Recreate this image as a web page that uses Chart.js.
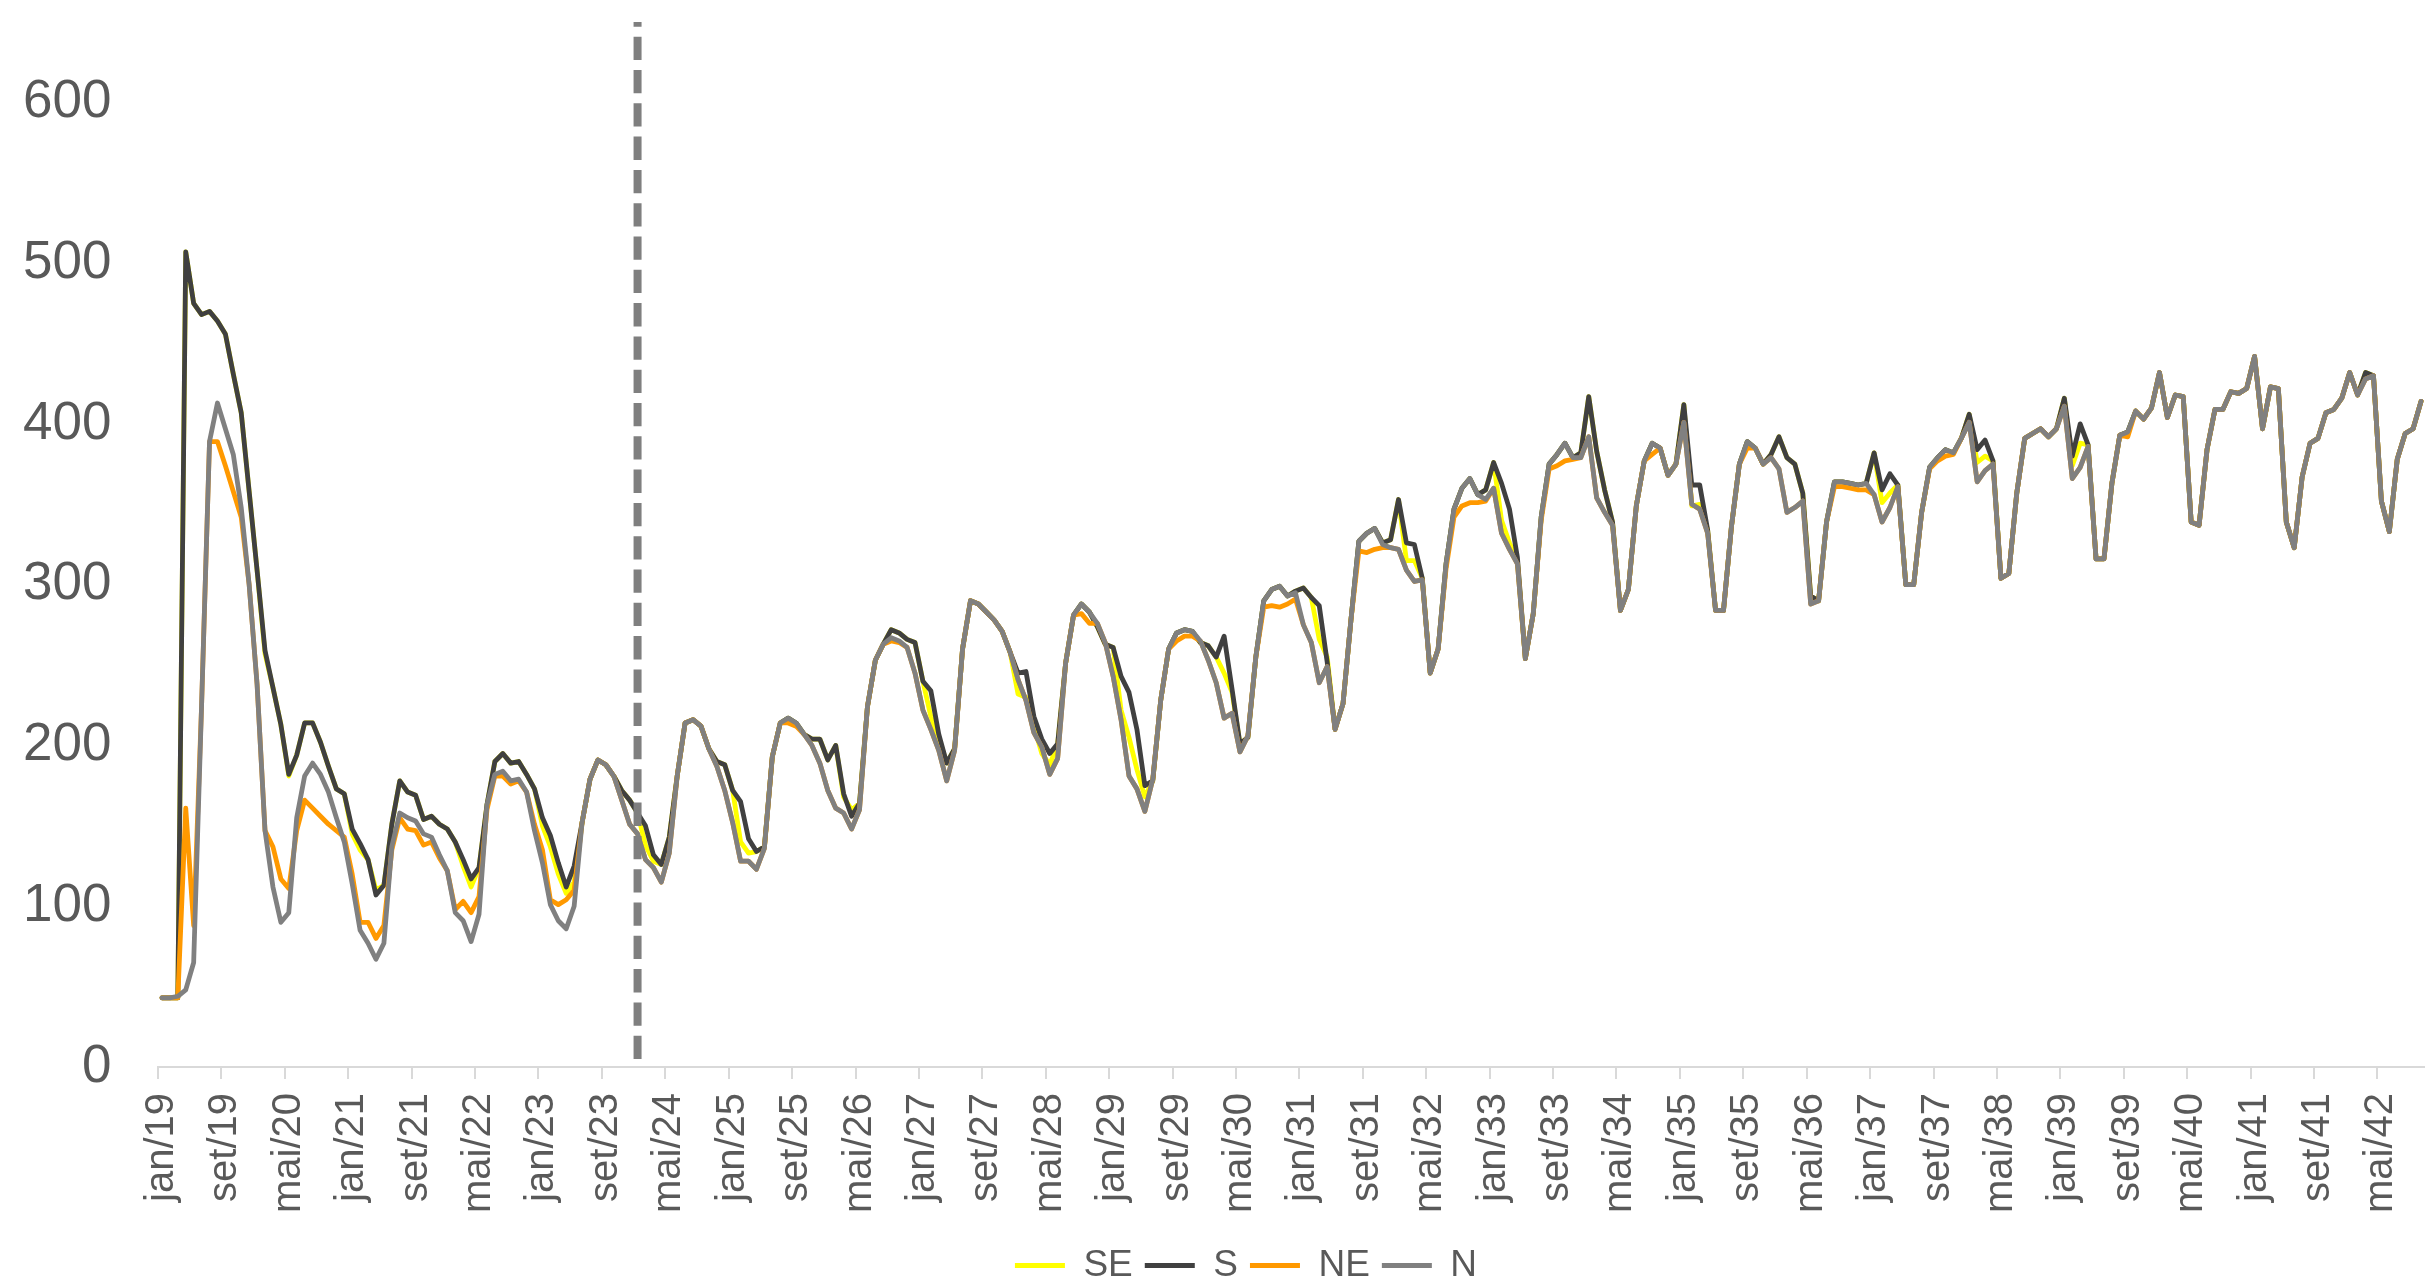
<!DOCTYPE html>
<html>
<head>
<meta charset="utf-8">
<title>SE, S, NE, N</title>
<script src="https://cdn.jsdelivr.net/npm/chart.js@4/dist/chart.umd.min.js"></script>
<style>
  html, body { margin: 0; padding: 0; background: #fff; }
  #wrap { width: 2425px; height: 1280px; position: relative; }
</style>
</head>
<body>
<div id="wrap"><canvas id="chart"></canvas></div>
<script>
// Month categories jan/19 .. out/42
const monthNames = ['jan', 'fev', 'mar', 'abr', 'mai', 'jun', 'jul', 'ago', 'set', 'out', 'nov', 'dez'];
const firstYear = 19;
const monthCount = 286;
const monthLabels = [];
for (let i = 0; i < monthCount; i++) {
  monthLabels.push(monthNames[i % 12] + '/' + (firstYear + Math.floor(i / 12)));
}

// Start of the projection (dashed line)
const forecastStart = 'jan/24';

const yTickValues = [0, 100, 200, 300, 400, 500, 600];

// Series values
const seSeries = [
  43, 43, 43, 507, 475, 468, 470, 464, 456, 431,
  407, 358, 309, 257, 236, 213, 181, 194, 214, 214,
  202, 187, 173, 170, 145, 135, 129, 110, 113, 151,
  178, 171, 169, 154, 156, 151, 148, 140, 125, 112,
  124, 163, 190, 195, 189, 190, 182, 173, 150, 137,
  120, 108, 115, 152, 179, 191, 188, 181, 172, 166,
  158, 138, 128, 126, 143, 181, 214, 216, 212, 198,
  190, 188, 172, 140, 133, 134, 137, 193, 214, 217,
  214, 207, 204, 204, 191, 200, 168, 160, 164, 224,
  253, 263, 272, 270, 266, 264, 240, 218, 205, 189,
  198, 260, 290, 288, 283, 278, 271, 258, 232, 230,
  212, 195, 188, 201, 251, 281, 288, 283, 274, 263,
  261, 222, 205, 185, 168, 178, 228, 260, 270, 272,
  271, 264, 262, 255, 245, 233, 201, 205, 255, 290,
  297, 299, 293, 296, 298, 292, 266, 255, 210, 226,
  278, 327, 332, 335, 326, 328, 353, 315, 315, 304,
  245, 260, 313, 347, 360, 366, 356, 359, 376, 340,
  326, 315, 254, 282, 342, 375, 381, 388, 379, 382,
  417, 383, 359, 339, 284, 297, 349, 377, 388, 385,
  368, 375, 412, 349, 350, 334, 284, 284, 336, 375,
  389, 385, 375, 381, 392, 379, 375, 357, 293, 290,
  339, 364, 364, 363, 362, 363, 382, 351, 357, 362,
  300, 300, 345, 373, 379, 384, 382, 391, 406, 376,
  380, 377, 304, 307, 357, 391, 394, 397, 392, 397,
  416, 374, 388, 387, 316, 316, 363, 393, 395, 408,
  403, 410, 432, 404, 418, 417, 339, 337, 384, 409,
  409, 420, 419, 422, 442, 397, 423, 422, 339, 323,
  367, 388, 391, 407, 409, 416, 432, 418, 432, 430,
  352, 333, 378, 394, 397, 414
];

const sSeries = [
  43, 43, 43, 507, 475, 468, 470, 464, 456, 431,
  407, 358, 309, 259, 236, 213, 182, 194, 214, 214,
  202, 187, 173, 170, 148, 139, 129, 107, 113, 151,
  178, 171, 169, 154, 156, 151, 148, 140, 129, 117,
  124, 163, 190, 195, 189, 190, 182, 173, 155, 144,
  127, 112, 125, 152, 179, 191, 188, 181, 172, 166,
  158, 150, 132, 126, 143, 181, 214, 216, 212, 198,
  190, 188, 172, 165, 142, 134, 137, 193, 214, 217,
  214, 207, 204, 204, 191, 200, 170, 156, 164, 224,
  253, 263, 272, 270, 266, 264, 240, 234, 207, 189,
  198, 260, 290, 288, 283, 278, 271, 258, 245, 246,
  218, 204, 195, 201, 251, 281, 288, 283, 274, 263,
  261, 243, 233, 210, 175, 178, 228, 260, 270, 272,
  271, 264, 262, 255, 268, 235, 201, 205, 255, 290,
  297, 299, 293, 296, 298, 292, 287, 252, 210, 226,
  278, 327, 332, 335, 326, 328, 353, 326, 325, 304,
  245, 260, 313, 347, 360, 366, 356, 359, 376, 363,
  347, 317, 254, 282, 342, 375, 381, 388, 379, 382,
  417, 383, 359, 339, 284, 297, 349, 377, 388, 385,
  368, 375, 412, 362, 362, 334, 284, 284, 336, 375,
  389, 385, 375, 381, 392, 379, 375, 357, 293, 290,
  339, 364, 364, 363, 362, 363, 382, 359, 369, 362,
  300, 300, 345, 373, 379, 384, 382, 391, 406, 384,
  390, 377, 304, 307, 357, 391, 394, 397, 392, 397,
  416, 380, 400, 387, 316, 316, 363, 393, 395, 408,
  403, 410, 432, 404, 418, 417, 339, 337, 384, 409,
  409, 420, 419, 422, 442, 397, 423, 422, 339, 323,
  367, 388, 391, 407, 409, 416, 432, 418, 432, 430,
  352, 333, 378, 394, 397, 414
];

const neSeries = [
  43, 43, 43, 161, 88, 225, 389, 389, 374, 358,
  342, 300, 238, 147, 137, 117, 111, 147, 166, 161,
  156, 151, 147, 143, 120, 90, 90, 80, 88, 135,
  155, 148, 147, 138, 140, 130, 122, 98, 103, 96,
  106, 160, 181, 181, 176, 178, 171, 151, 135, 104,
  101, 104, 110, 152, 179, 191, 188, 181, 166, 151,
  145, 129, 124, 115, 133, 181, 214, 216, 212, 198,
  187, 172, 152, 128, 128, 123, 136, 193, 214, 214,
  212, 207, 200, 189, 172, 161, 158, 148, 160, 224,
  253, 263, 265, 264, 261, 245, 222, 210, 197, 178,
  197, 260, 290, 288, 283, 278, 271, 258, 241, 228,
  208, 199, 182, 192, 251, 281, 282, 276, 276, 264,
  243, 216, 181, 173, 159, 179, 228, 260, 265, 268,
  268, 265, 253, 239, 217, 220, 196, 206, 255, 286,
  287, 286, 288, 291, 275, 264, 239, 249, 210, 226,
  278, 321, 320, 322, 323, 323, 322, 309, 302, 303,
  245, 260, 310, 342, 349, 351, 351, 352, 360, 332,
  322, 313, 254, 282, 340, 372, 374, 377, 378, 379,
  392, 354, 345, 337, 284, 297, 349, 377, 381, 385,
  368, 375, 401, 350, 347, 332, 284, 284, 336, 375,
  385, 385, 375, 379, 372, 345, 348, 352, 288, 290,
  339, 361, 361, 360, 359, 359, 356, 339, 348, 361,
  300, 300, 345, 372, 377, 380, 381, 391, 401, 364,
  371, 375, 304, 307, 357, 391, 394, 397, 392, 397,
  411, 366, 373, 386, 316, 316, 363, 393, 392, 408,
  403, 410, 432, 404, 418, 417, 339, 337, 384, 409,
  409, 420, 419, 422, 442, 397, 423, 422, 339, 323,
  367, 388, 391, 407, 409, 416, 432, 418, 428, 430,
  352, 333, 378, 394, 397, 414
];

const nSeries = [
  43, 43, 44, 48, 65, 225, 389, 413, 397, 381,
  348, 300, 238, 147, 112, 90, 96, 155, 181, 189,
  182, 171, 155, 140, 114, 85, 77, 67, 77, 137,
  158, 155, 153, 145, 143, 132, 122, 96, 91, 78,
  95, 163, 182, 184, 178, 179, 171, 147, 127, 101,
  91, 86, 100, 152, 179, 191, 188, 181, 166, 151,
  145, 129, 124, 115, 133, 181, 214, 216, 212, 198,
  187, 172, 152, 128, 128, 123, 136, 193, 214, 217,
  214, 207, 200, 189, 172, 161, 158, 148, 160, 224,
  253, 263, 267, 265, 261, 245, 222, 210, 197, 178,
  197, 260, 290, 288, 283, 278, 271, 258, 241, 228,
  208, 199, 182, 192, 251, 281, 288, 283, 276, 264,
  243, 216, 181, 173, 159, 179, 228, 260, 270, 272,
  271, 265, 253, 239, 217, 220, 196, 206, 255, 290,
  297, 299, 293, 295, 275, 264, 239, 249, 210, 226,
  278, 327, 332, 335, 325, 323, 322, 309, 302, 303,
  245, 260, 313, 347, 360, 366, 356, 353, 360, 332,
  322, 313, 254, 282, 342, 375, 381, 388, 379, 379,
  392, 354, 345, 337, 284, 297, 349, 377, 388, 385,
  368, 375, 401, 350, 347, 332, 284, 284, 336, 375,
  389, 385, 375, 379, 372, 345, 348, 352, 288, 290,
  339, 364, 364, 363, 362, 363, 356, 339, 348, 361,
  300, 300, 345, 373, 379, 384, 382, 391, 401, 364,
  371, 375, 304, 307, 357, 391, 394, 397, 392, 397,
  411, 366, 373, 386, 316, 316, 363, 393, 395, 408,
  403, 410, 432, 404, 418, 417, 339, 337, 384, 409,
  409, 420, 419, 422, 442, 397, 423, 422, 339, 323,
  367, 388, 391, 407, 409, 416, 432, 418, 428, 430,
  352, 333, 378, 394, 397, 414
];

const textColor = '#595959';
const axisColor = '#d9d9d9';
Chart.defaults.font.family = "'Liberation Sans', Arial, sans-serif";
Chart.defaults.color = textColor;

function lineSet(label, data, color, order) {
  return {
    label: label,
    data: data,
    borderColor: color,
    backgroundColor: color,
    borderWidth: 4.8,
    borderJoinStyle: 'round',
    borderCapStyle: 'round',
    pointRadius: 0,
    pointHoverRadius: 0,
    tension: 0,
    fill: false,
    order: order
  };
}

// vertical dashed line where the projection starts
const forecastLine = {
  id: 'forecastLine',
  afterDatasetsDraw(chart) {
    const { ctx, scales: { x, y } } = chart;
    const px = x.getPixelForValue(monthLabels.indexOf(forecastStart));
    ctx.save();
    ctx.strokeStyle = '#7f7f7f';
    ctx.lineWidth = 8;
    ctx.setLineDash([23.3, 10]);
    ctx.lineDashOffset = 18.6;
    ctx.beginPath();
    ctx.moveTo(px, y.getPixelForValue(y.max));
    ctx.lineTo(px, y.getPixelForValue(0));
    ctx.stroke();
    ctx.restore();
  }
};

new Chart(document.getElementById('chart'), {
  type: 'line',
  data: {
    labels: monthLabels,
    datasets: [
      lineSet('SE', seSeries, '#ffff00', 4),
      lineSet('S', sSeries, '#404040', 3),
      lineSet('NE', neSeries, '#ff9900', 2),
      lineSet('N', nSeries, '#808080', 1)
    ]
  },
  options: {
    responsive: true,
    maintainAspectRatio: false,
    animation: false,
    devicePixelRatio: 1,
    layout: { padding: { left: 67, right: 0, top: 22, bottom: -14 } },
    plugins: {
      legend: {
        position: 'bottom',
        labels: {
          usePointStyle: true,
          pointStyle: 'line',
          pointStyleWidth: 50,
          padding: 12,
          color: textColor,
          font: { size: 37 },
          sort: (a, b) => a.datasetIndex - b.datasetIndex
        }
      },
      tooltip: { enabled: false }
    },
    scales: {
      x: {
        offset: true,
        grid: {
          offset: true,
          drawOnChartArea: false,
          drawTicks: true,
          tickLength: 12,
          lineWidth: 2,
          color: (c) => (c.index % 8 === 0 ? axisColor : 'rgba(0,0,0,0)'),
          tickColor: (c) => (c.index % 8 === 0 ? axisColor : 'rgba(0,0,0,0)')
        },
        border: { display: true, color: axisColor, width: 2 },
        ticks: {
          autoSkip: false,
          minRotation: 90,
          maxRotation: 90,
          padding: 14,
          color: textColor,
          font: { size: 40 },
          callback: function (value, index) {
            return index % 8 === 0 ? this.getLabelForValue(value) : '';
          }
        },
        afterFit: (scale) => {
          scale.height = 168;
          scale.paddingLeft = 0;
          scale.paddingRight = 0;
        }
      },
      y: {
        min: 0,
        max: 650,
        grid: { display: false, drawTicks: false },
        border: { display: false },
        ticks: {
          mirror: true,
          crossAlign: 'far',
          padding: -135,
          color: textColor,
          font: { size: 53 }
        },
        afterBuildTicks: (scale) => {
          scale.ticks = yTickValues.map((v) => ({ value: v }));
        },
        afterFit: (scale) => {
          scale.width = 91;
          scale.paddingTop = 0;
          scale.paddingBottom = 0;
        }
      }
    }
  },
  plugins: [forecastLine]
});
</script>
</body>
</html>
